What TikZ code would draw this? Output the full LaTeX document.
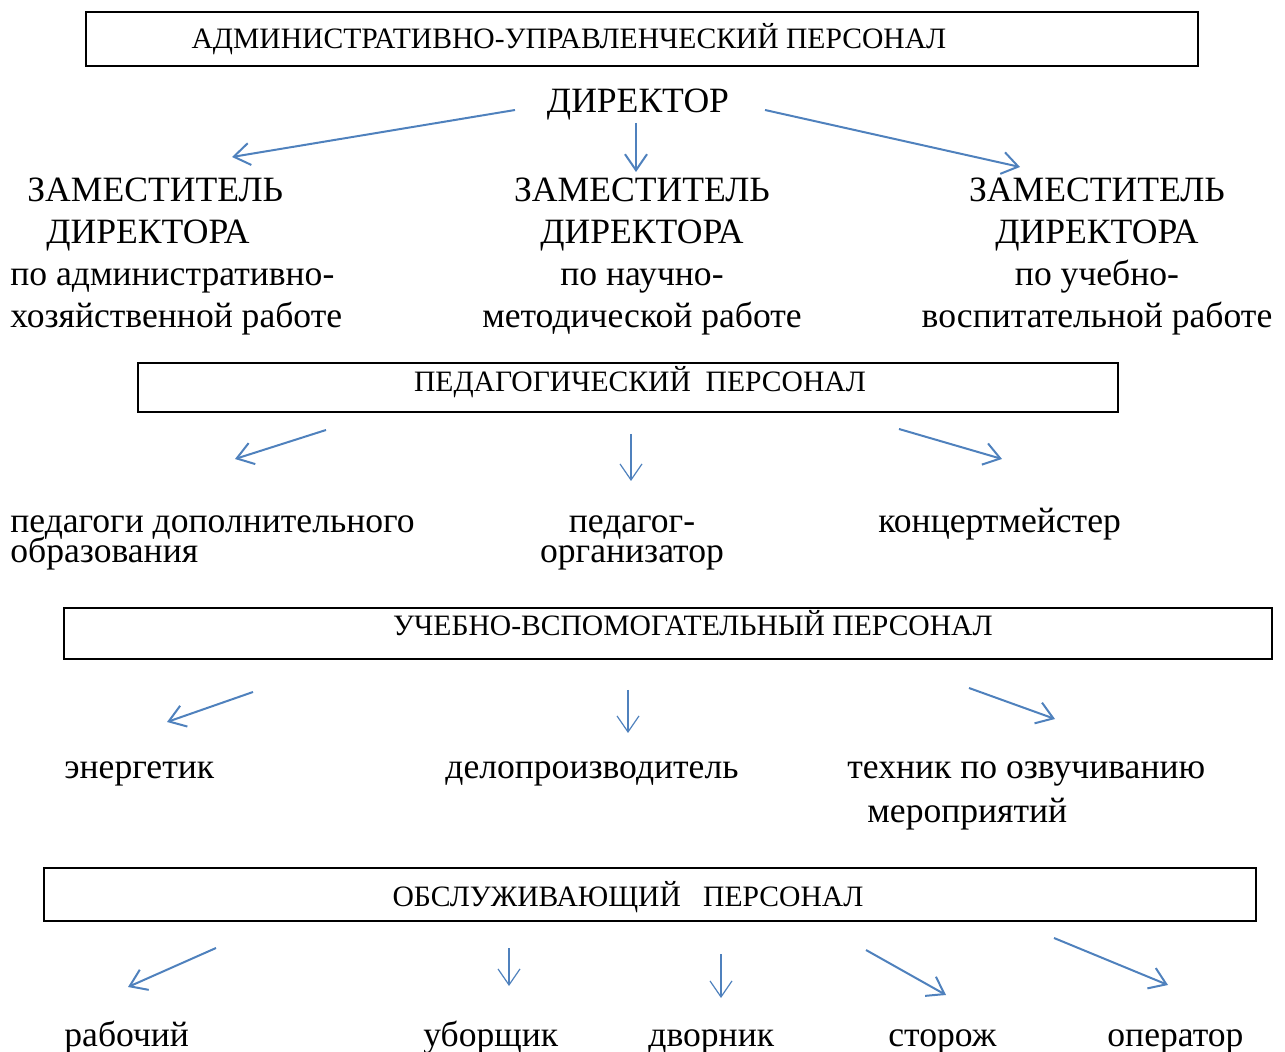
\documentclass[tikz,border=0pt]{standalone}
\usepackage{fontspec}
\setmainfont{Liberation Serif}
\usepackage{xcolor}
\usepackage{tikz}
\usetikzlibrary{arrows.meta}
\definecolor{arrblue}{RGB}{79,129,189}
\newcommand\tightlines{\fontsize{17.8}{15}\selectfont\lineskip=0pt\relax\lineskiplimit=-20pt\relax}

\begin{document}
\begin{tikzpicture}[x=0.5pt,y=-0.5pt]
      \tikzstyle{frame} = [draw, line width=0.6pt, inner sep=0pt]
      \tikzstyle{head} = [inner sep=0pt, anchor=base, font=\fontsize{14.8}{17}\selectfont]
      \tikzstyle{post} = [inner sep=0pt, font=\fontsize{17.8}{21}\selectfont]
      \tikzstyle{tight} = [font=\tightlines]
      \tikzstyle{edge} = [-{Straight Barb[length=8pt,width=11pt]}, line width=1pt, arrblue]
      \tikzstyle{thinedge} = [edge, line width=0.6pt]

      \useasboundingbox (0,0) rectangle (1285,1052);

      \node[frame, minimum width=556pt, minimum height=27pt] (admframe) at (642,39) {};
      \node[frame, minimum width=490pt, minimum height=24.5pt] (pedframe) at (628,387.5) {};
      \node[frame, minimum width=604pt, minimum height=25.5pt] (uvpframe) at (668,633.5) {};
      \node[frame, minimum width=606pt, minimum height=26.5pt] (obsframe) at (650,894.5) {};

      \node[head] (admtitle) at (569,49) {АДМИНИСТРАТИВНО-УПРАВЛЕНЧЕСКИЙ ПЕРСОНАЛ};
      \node[head] (pedtitle) at (640,392) {ПЕДАГОГИЧЕСКИЙ\ \ ПЕРСОНАЛ};
      \node[head] (uvptitle) at (693,636) {УЧЕБНО-ВСПОМОГАТЕЛЬНЫЙ ПЕРСОНАЛ};
      \node[head] (obstitle) at (628,906) {ОБСЛУЖИВАЮЩИЙ\ \ \ ПЕРСОНАЛ};

      \node[post, anchor=base] (dir) at (638,113) {ДИРЕКТОР};
      \node[post, anchor=base west, align=left] (zam1) at (10,328)
        {\hspace*{8.5pt}ЗАМЕСТИТЕЛЬ\\ \hspace*{18pt}ДИРЕКТОРА\\ по административно-\\ хозяйственной работе};
      \node[post, anchor=base, align=center] (zam2) at (642,328)
        {ЗАМЕСТИТЕЛЬ\\ ДИРЕКТОРА\\ по научно-\\ методической работе};
      \node[post, anchor=base, align=center] (zam3) at (1097,328)
        {ЗАМЕСТИТЕЛЬ\\ ДИРЕКТОРА\\ по учебно-\\ воспитательной работе};

      \node[post, tight, anchor=base west, align=left] (pdo) at (10,563)
        {педагоги дополнительного\\ образования};
      \node[post, tight, anchor=base, align=center] (porg) at (632,563)
        {педагог-\\ организатор};
      \node[post, anchor=base west] (konc) at (878,533) {концертмейстер};

      \node[post, anchor=base west] (energ) at (64,778) {энергетик};
      \node[post, anchor=base west] (delo) at (445,778) {делопроизводитель};
      \node[post, anchor=base west, align=left, font=\fontsize{17.8}{22}\selectfont] (tech) at (847,822)
        {техник по озвучиванию\\ \hspace*{10pt}мероприятий};

      \node[post, anchor=base west] (rab) at (64,1046) {рабочий};
      \node[post, anchor=base west] (ubor) at (423,1046) {уборщик};
      \node[post, anchor=base west] (dvor) at (648,1046) {дворник};
      \node[post, anchor=base west] (stor) at (888,1046) {сторож};
      \node[post, anchor=base west] (oper) at (1107,1046) {оператор};

      \coordinate (d1) at (515,110);  \coordinate (z1) at (232,157);
      \coordinate (d2) at (636,123);  \coordinate (z2) at (636,172);
      \coordinate (d3) at (765,110);  \coordinate (z3) at (1020,167);
      \coordinate (p1) at (326,430);  \coordinate (q1) at (235,459);
      \coordinate (p2) at (631,434);  \coordinate (q2) at (631,481);
      \coordinate (p3) at (899,429);  \coordinate (q3) at (1002,459);
      \coordinate (u1) at (253,692);  \coordinate (v1) at (167,722);
      \coordinate (u2) at (628,690);  \coordinate (v2) at (628,733);
      \coordinate (u3) at (969,688);  \coordinate (v3) at (1055,719);
      \coordinate (o1) at (216,948);  \coordinate (w1) at (128,987);
      \coordinate (o2) at (509,948);  \coordinate (w2) at (509,986);
      \coordinate (o3) at (721,954);  \coordinate (w3) at (721,998);
      \coordinate (o4) at (866,950);  \coordinate (w4) at (946,995);
      \coordinate (o5) at (1054,938); \coordinate (w5) at (1168,985);

      \draw[edge] (d1) to (z1);
      \draw[edge] (d2) to (z2);
      \draw[edge] (d3) to (z3);
      \draw[edge] (p1) to (q1);
      \draw[thinedge] (p2) to (q2);
      \draw[edge] (p3) to (q3);
      \draw[edge] (u1) to (v1);
      \draw[thinedge] (u2) to (v2);
      \draw[edge] (u3) to (v3);
      \draw[edge] (o1) to (w1);
      \draw[thinedge] (o2) to (w2);
      \draw[thinedge] (o3) to (w3);
      \draw[edge] (o4) to (w4);
      \draw[edge] (o5) to (w5);
    \end{tikzpicture}
\end{document}
